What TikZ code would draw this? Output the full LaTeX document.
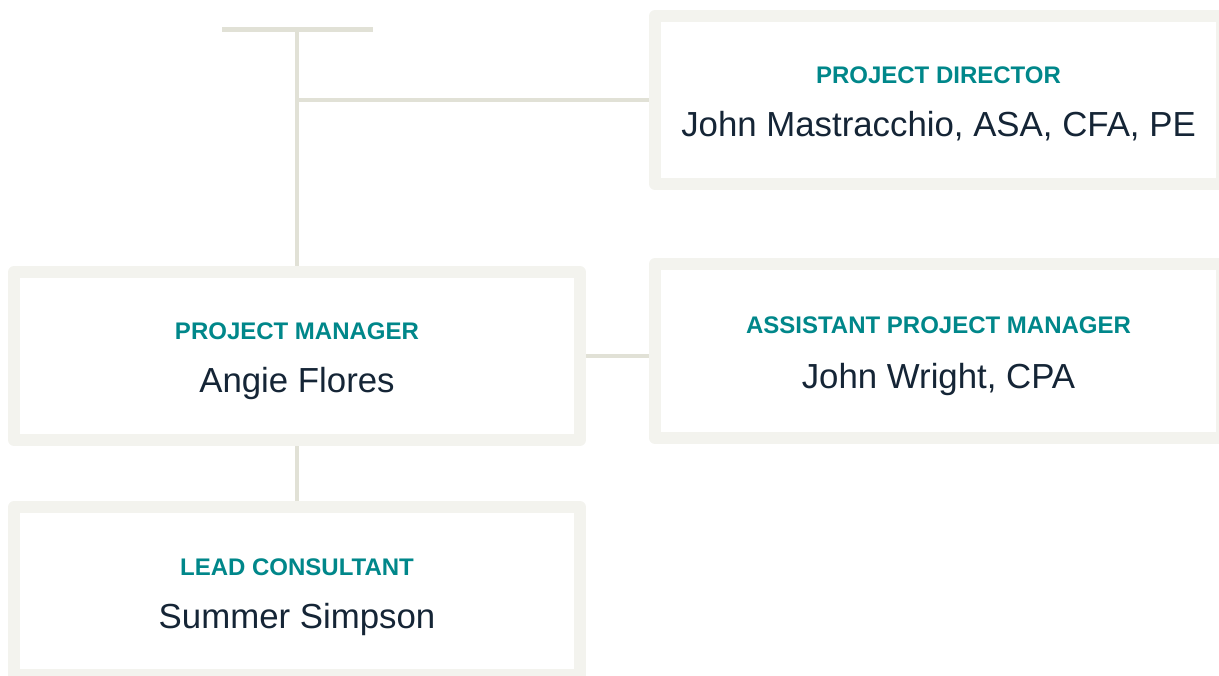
\documentclass[tikz,border=0pt]{standalone}
\usepackage{fontspec}
\setmainfont{Liberation Sans}
\usetikzlibrary{calc,positioning}

\definecolor{boxedge}{HTML}{F3F3EE}
\definecolor{linkline}{HTML}{E1E1D6}
\definecolor{roleteal}{HTML}{00878A}
\definecolor{namenavy}{HTML}{152536}

\begin{document}
\begin{tikzpicture}[x=0.5pt,y=-0.5pt,
  every node/.style={inner sep=0pt},
  card/.style={draw=boxedge,fill=white,line width=6pt,line join=round,minimum width=283pt,minimum height=84pt},
  role/.style={anchor=base,text=roleteal,font=\bfseries\fontsize{12}{14}\selectfont},
  person/.style={anchor=base,text=namenavy,font=\fontsize{17.4}{20}\selectfont},
  link/.style={draw=linkline,line width=2.4pt}]
\path[use as bounding box,clip] (0,0) rectangle (1219,675);

% boxes
\node [card,minimum width=283.5pt] (Director) at (938.5,100) {};
\node [card] (Manager) at (297,356) {};
\node [card,minimum width=283.5pt,minimum height=87pt] (Assistant) at (938.5,351) {};
\node [card] (Consultant) at (297,591) {};

% titles and names
\node [role] (DirectorRole) at ($(Director.center)+(0,-17)$) {PROJECT DIRECTOR};
\node [person] (DirectorName) at ($(DirectorRole.base)+(0,53)$) {John Mastracchio, ASA, CFA, PE};
\node [role] (ManagerRole) at ($(Manager.center)+(0,-17)$) {PROJECT MANAGER};
\node [person] (ManagerName) at ($(ManagerRole.base)+(0,53)$) {Angie Flores};
\node [role] (AssistantRole) at ($(Assistant.center)+(0,-18)$) {ASSISTANT PROJECT MANAGER};
\node [person] (AssistantName) at ($(AssistantRole.base)+(0,55)$) {John Wright, CPA};
\node [role] (ConsultantRole) at ($(Consultant.center)+(0,-16)$) {LEAD CONSULTANT};
\node [person] (ConsultantName) at ($(ConsultantRole.base)+(0,53)$) {Summer Simpson};

% connectors
\coordinate (BarLeft) at (222,29.5);
\coordinate (BarRight) at (373,29.5);
\coordinate (BarMid) at (297,29.5);
\draw [link] (BarLeft) -- (BarRight);
\draw [link] (BarMid) -- (Manager.north);
\draw [link] (Director.west -| BarMid) -- (Director.west);
\draw [link] (Manager.east) -- (Manager.east -| Assistant.west);
\draw [link] (Manager.south) -- (Consultant.north);
\end{tikzpicture}
\end{document}
